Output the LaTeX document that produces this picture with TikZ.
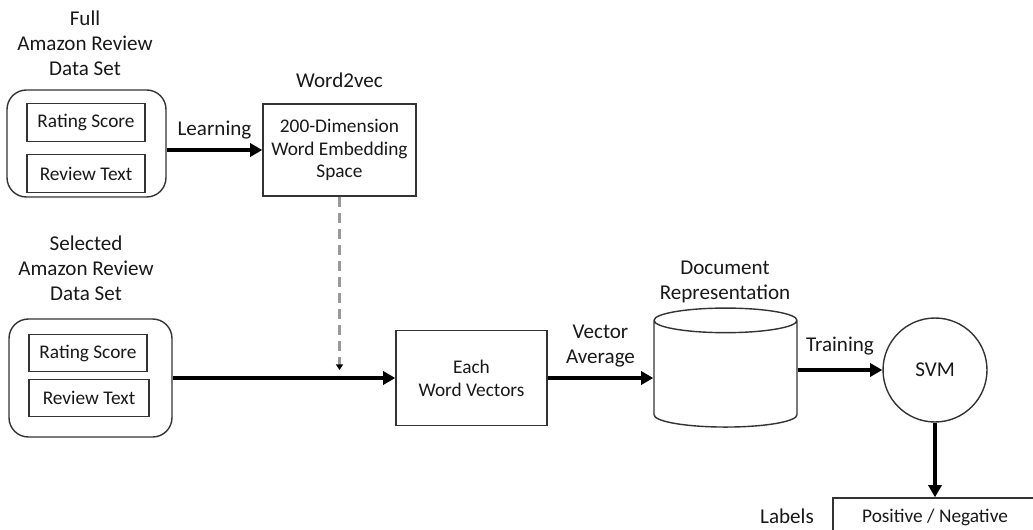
\documentclass[tikz,border=0pt]{standalone}
\usepackage{fontspec}
\setmainfont{Carlito}
\usetikzlibrary{positioning, shapes.geometric, arrows.meta}

\begin{document}
\begin{tikzpicture}[x=0.02cm, y=-0.02cm,
    every node/.style={text=black!90, font=\fontsize{12}{14.2}\selectfont, align=center},
    boxtext/.style={font=\fontsize{11}{13}\selectfont},
    setbox/.style={draw=black!80, line width=0.8pt, rounded corners=11pt},
    fieldbox/.style={draw=black!80, line width=0.8pt, boxtext, minimum width=2.36cm, minimum height=0.75cm},
    procbox/.style={draw=black!80, line width=0.8pt, boxtext},
    flow/.style={line width=2.2pt, -{Triangle[length=7pt, width=7.5pt]}},
    lookup/.style={draw=black!40, line width=1.6pt, dash pattern=on 5.7pt off 3.4pt,
        -{Triangle[length=3.2pt, width=4pt, color=black]}}
]
    \useasboundingbox (0,0) rectangle (1033,530);

    % full data set
    \node (fulltitle) at (85,43) {Full\\Amazon Review\\Data Set};
    \node[setbox, minimum width=3.18cm, minimum height=2.14cm] (fullset) at (86.5,143.5) {};
    \node[fieldbox] (fullscore) at (86,122.5) {Rating Score};
    \node[fieldbox] (fulltext) at (86,173.5) {Review Text};

    % word2vec
    \node (w2vtitle) at (339.5,80) {Word2vec};
    \node[procbox, minimum width=3.06cm, minimum height=1.84cm] (embed) at (339.5,150)
        {200-Dimension\\Word Embedding\\Space};

    % selected data set
    \node (seltitle) at (86,268) {Selected\\Amazon Review\\Data Set};
    \node[setbox, minimum width=3.26cm, minimum height=2.36cm] (selset) at (90.5,378) {};
    \node[fieldbox] (selscore) at (88,353) {Rating Score};
    \node[fieldbox, minimum width=2.4cm] (seltext) at (89,398) {Review Text};

    % vectors, documents, classifier
    \node[procbox, minimum width=3.02cm, minimum height=1.9cm] (wordvec) at (471.5,378)
        {Each\\Word Vectors};
    \node[cylinder, shape border rotate=90, draw=black!80, line width=0.8pt, aspect=2.1,
        minimum width=2.86cm, minimum height=2.38cm] (docrep) at (725.5,376.5) {};
    \node (doctitle) at (725,282) {Document\\Representation};
    \node[circle, draw=black!80, line width=0.8pt, minimum size=2.08cm, inner sep=0pt] (svm)
        at (935,370) {SVM};
    \node[draw=black!80, line width=0.8pt, boxtext, minimum width=4.08cm, minimum height=0.76cm]
        (result) at (935,517) {Positive / Negative};
    \node (labels) at (787,516) {Labels};

    \coordinate (dropin) at (339.5,370);

    % connectors
    \draw[flow] (fullset.east |- embed) -- node[above=2pt] {Learning} (embed.west);
    \draw[lookup] (embed.south) -- (dropin);
    \draw[flow] (selset.east) -- (wordvec.west |- selset);
    \draw[flow] (wordvec.east) -- node[above=2pt] {Vector\\Average} (docrep.west |- wordvec.east);
    \draw[flow] (docrep.east |- svm) -- node[above=4pt] {Training} (svm.west);
    \draw[flow] (svm.south) -- (result.north);
\end{tikzpicture}
\end{document}
